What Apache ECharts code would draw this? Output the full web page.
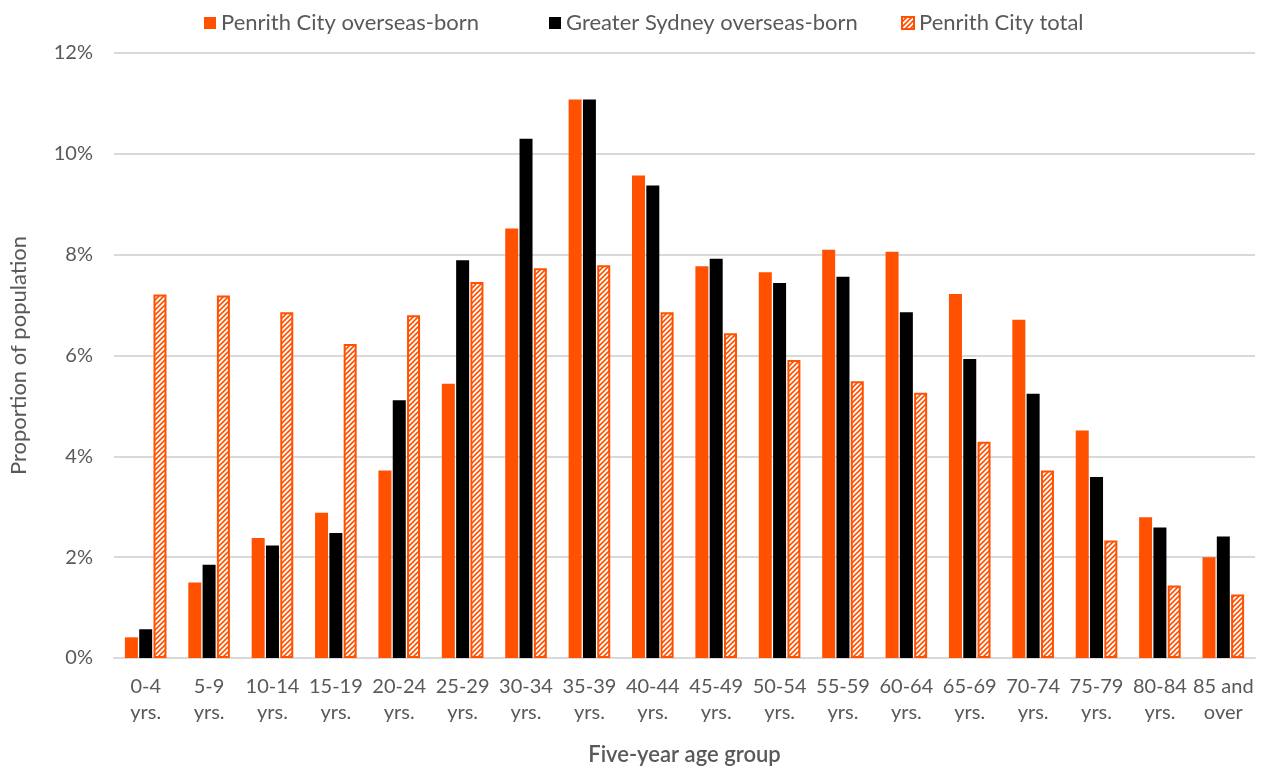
<!DOCTYPE html>
<html>
<head>
<meta charset="utf-8">
<script src="https://cdn.jsdelivr.net/npm/echarts@6/dist/echarts.min.js"></script>
<style>
  html, body { margin: 0; padding: 0; background: #ffffff; }
  #chart { width: 1264px; height: 771px; }
</style>
</head>
<body>
<div id="chart"></div>
<script>
// Age groups (x axis)
const ageGroups = [
  '0-4\nyrs.', '5-9\nyrs.', '10-14\nyrs.', '15-19\nyrs.', '20-24\nyrs.', '25-29\nyrs.',
  '30-34\nyrs.', '35-39\nyrs.', '40-44\nyrs.', '45-49\nyrs.', '50-54\nyrs.', '55-59\nyrs.',
  '60-64\nyrs.', '65-69\nyrs.', '70-74\nyrs.', '75-79\nyrs.', '80-84\nyrs.', '85 and\nover'
];

// Share of population in each age group (%)
const penrithOverseas = [0.41, 1.50, 2.38, 2.88, 3.72, 5.44, 8.52, 11.08, 9.57, 7.77, 7.65, 8.10, 8.06, 7.22, 6.71, 4.51, 2.79, 2.00];
const sydneyOverseas  = [0.57, 1.85, 2.23, 2.48, 5.11, 7.89, 10.30, 11.08, 9.37, 7.92, 7.44, 7.56, 6.86, 5.93, 5.24, 3.59, 2.59, 2.41];
const penrithTotal    = [7.21, 7.19, 6.86, 6.23, 6.80, 7.46, 7.73, 7.79, 6.86, 6.44, 5.91, 5.49, 5.26, 4.29, 3.72, 2.33, 1.44, 1.26];

// Y axis ticks (%)
const yTicks = [0, 2, 4, 6, 8, 10, 12];

// Series names, in legend order
const seriesNames = ['Penrith City overseas-born', 'Greater Sydney overseas-born', 'Penrith City total'];

const ORANGE = '#FF5100';
const TEXT = '#595959';
const GRID = '#d9d9d9';
const FONT = 'Lato, "Open Sans", sans-serif';

// Diagonal hatch fill for the total-population bars
function makeHatch() {
  const c = document.createElement('canvas');
  c.width = 5; c.height = 5;
  const g = c.getContext('2d');
  g.fillStyle = '#ffffff';
  g.fillRect(0, 0, 5, 5);
  g.strokeStyle = ORANGE;
  g.lineWidth = 1.6;
  g.beginPath();
  g.moveTo(-1, 6); g.lineTo(6, -1);
  g.moveTo(-6, 6); g.lineTo(1, -1);
  g.moveTo(4, 6); g.lineTo(11, -1);
  g.stroke();
  return c;
}
const hatch = { image: makeHatch(), repeat: 'repeat' };

// One legend entry per fixed-width slot across the top
const legendLefts = [199, 544, 896];
const legends = seriesNames.map((name, i) => ({
  top: 7,
  left: legendLefts[i],
  itemWidth: 12,
  itemHeight: 12,
  textStyle: { color: TEXT, fontSize: 22, fontFamily: FONT },
  data: [{ name: name, icon: 'rect' }]
}));

const chart = echarts.init(document.getElementById('chart'), null, { renderer: 'canvas' });

chart.setOption({
  animation: false,
  backgroundColor: '#ffffff',
  textStyle: { fontFamily: FONT },
  legend: legends,
  grid: { left: 113, right: 9, top: 53, bottom: 110, containLabel: false },
  xAxis: {
    type: 'category',
    data: ageGroups,
    name: 'Five-year age group',
    nameLocation: 'middle',
    nameGap: 86,
    nameTextStyle: { color: TEXT, fontSize: 22, fontWeight: 600, fontFamily: FONT },
    axisLine: { lineStyle: { color: GRID, width: 2 } },
    axisTick: { show: false },
    axisLabel: { color: TEXT, fontSize: 20, lineHeight: 26, margin: 16, interval: 0, fontFamily: FONT }
  },
  yAxis: {
    type: 'value',
    min: yTicks[0],
    max: yTicks[yTicks.length - 1],
    interval: 2,
    name: 'Proportion of population',
    nameLocation: 'middle',
    nameGap: 84,
    nameTextStyle: { color: TEXT, fontSize: 22, fontFamily: FONT },
    axisLine: { show: false },
    axisTick: { show: false },
    axisLabel: { color: TEXT, fontSize: 20, margin: 21, formatter: v => v + '%', fontFamily: FONT },
    splitLine: { lineStyle: { color: GRID, width: 2 } }
  },
  series: [
    {
      name: seriesNames[0],
      type: 'bar',
      data: penrithOverseas,
      barWidth: 13,
      barGap: '10%',
      itemStyle: { color: ORANGE }
    },
    {
      name: seriesNames[1],
      type: 'bar',
      data: sydneyOverseas,
      barWidth: 13,
      barGap: '10%',
      itemStyle: { color: '#000000' }
    },
    {
      name: seriesNames[2],
      type: 'bar',
      data: penrithTotal,
      barWidth: 13,
      barGap: '10%',
      itemStyle: { color: hatch, borderColor: ORANGE, borderWidth: 2 }
    }
  ]
});
</script>
</body>
</html>
